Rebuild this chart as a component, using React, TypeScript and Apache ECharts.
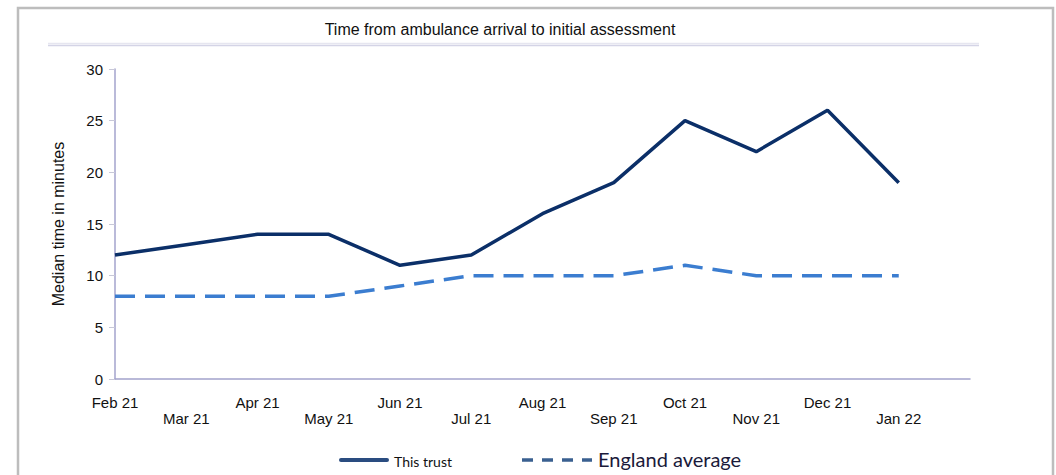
import React, { useEffect, useRef } from "react";
import * as echarts from "echarts";

const months = ["Feb 21", "Mar 21", "Apr 21", "May 21", "Jun 21", "Jul 21", "Aug 21", "Sep 21", "Oct 21", "Nov 21", "Dec 21", "Jan 22", ""];
const thisTrust = [12, 13, 14, 14, 11, 12, 16, 19, 25, 22, 26, 19];
const englandAverage = [8, 8, 8, 8, 9, 10, 10, 10, 11, 10, 10, 10];
const titleText = "Time from ambulance arrival to initial assessment";
const yAxisName = "Median time in minutes";

export default function App() {
  const ref = useRef<HTMLDivElement>(null);
  useEffect(() => {
    if (!ref.current) return;
    const chart = echarts.init(ref.current, null, { renderer: "svg" });
    const font = "'Liberation Sans', Arial, sans-serif";
    chart.setOption({
      animation: false,
      backgroundColor: "#ffffff",
      grid: { left: 115, right: 86, top: 69, bottom: 96, containLabel: false },
      xAxis: {
        type: "category",
        data: months,
        boundaryGap: false,
        axisLine: { show: true, lineStyle: { color: "#a3a3cc", width: 1.5 } },
        axisTick: { show: false },
        splitLine: { show: false },
        axisLabel: {
          interval: 0,
          margin: 15,
          color: "#111",
          fontFamily: font,
          fontSize: 15,
          lineHeight: 16,
          formatter: (v: string, i: number) => (i % 2 === 1 ? "\n" + v : v),
        },
      },
      yAxis: {
        type: "value",
        min: 0,
        max: 30,
        interval: 5,
        name: yAxisName,
        nameLocation: "middle",
        nameGap: 49,
        nameRotate: 90,
        nameTextStyle: { color: "#111", fontFamily: font, fontSize: 16 },
        axisLine: { show: true, lineStyle: { color: "#a3a3cc", width: 1.5 } },
        axisTick: { show: true, length: 6, lineStyle: { color: "#c8c8d8" } },
        splitLine: { show: false },
        axisLabel: { color: "#111", fontFamily: font, fontSize: 15, margin: 12 },
      },
      series: [
        {
          name: "This trust",
          type: "line",
          data: thisTrust,
          symbol: "none",
          lineStyle: { color: "#0b2f68", width: 3.5 },
        },
        {
          name: "England average",
          type: "line",
          data: englandAverage,
          symbol: "none",
          lineStyle: { color: "#3b7dd0", width: 3.5, type: [20, 10], cap: "butt" },
        },
      ],
      graphic: [
        {
          type: "polyline",
          shape: { points: [[18, 476], [18, 8], [1053, 8], [1053, 476]] },
          style: { stroke: "#bdbdbd", lineWidth: 2.5, fill: null },
          silent: true,
        },
        {
          type: "text",
          x: 500,
          y: 29,
          style: { text: titleText, fontFamily: font, fontSize: 16, fill: "#111", align: "center", verticalAlign: "middle" },
        },
        {
          type: "line",
          shape: { x1: 48, y1: 43.5, x2: 979, y2: 43.5 },
          style: { stroke: "#e6e6f0", lineWidth: 1.5 },
        },
        {
          type: "line",
          shape: { x1: 48, y1: 45.5, x2: 979, y2: 45.5 },
          style: { stroke: "#d4d4e6", lineWidth: 1.5 },
        },
        {
          type: "line",
          shape: { x1: 341, y1: 460, x2: 387, y2: 460 },
          style: { stroke: "#2a4c80", lineWidth: 4, lineCap: "round" },
        },
        {
          type: "text",
          x: 394,
          y: 461,
          style: { text: "This trust", fontFamily: "Lato, 'Open Sans', sans-serif", fontSize: 14, fill: "#111", align: "left", verticalAlign: "middle" },
        },
        {
          type: "line",
          shape: { x1: 522, y1: 460, x2: 592, y2: 460 },
          style: { stroke: "#3a6090", lineWidth: 3.5, lineDash: [11, 9] },
        },
        {
          type: "text",
          x: 598,
          y: 459,
          style: { text: "England average", fontFamily: "Lato, 'Open Sans', sans-serif", fontSize: 20, fill: "#1a1a3a", align: "left", verticalAlign: "middle" },
        },
      ],
    });
    return () => chart.dispose();
  }, []);
  return (
    <div
      ref={ref}
      style={{ position: "fixed", left: 0, top: 0, width: 1056, height: 475 }}
    />
  );
}
